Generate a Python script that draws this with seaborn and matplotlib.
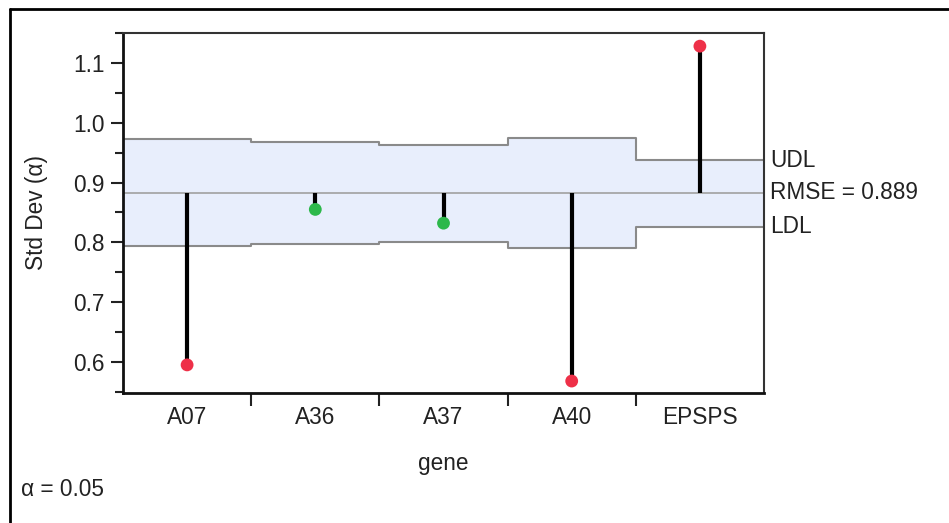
import numpy as np
import pandas as pd
import matplotlib
matplotlib.use("Agg")
import matplotlib.pyplot as plt
import matplotlib.transforms as mtransforms
from matplotlib.lines import Line2D
import seaborn as sns

sns.set_theme(style="white")
plt.rcParams['font.family'] = ['Liberation Sans', 'DejaVu Sans']

genes = ["A07", "A36", "A37", "A40", "EPSPS"]
std_dev = [0.595, 0.855, 0.832, 0.568, 1.128]
udl = [0.972, 0.967, 0.963, 0.975, 0.937]
ldl = [0.794, 0.797, 0.800, 0.790, 0.826]
center = 0.883
rmse_text = "RMSE = 0.889"
alpha_text = "α = 0.05"

df = pd.DataFrame({"gene": genes, "std": std_dev, "udl": udl, "ldl": ldl})
df["pos"] = np.arange(len(df))
df["status"] = np.where((df["std"] > df["udl"]) | (df["std"] < df["ldl"]), "out", "in")

txt = "#222222"
fs = 16.3

fig = plt.figure(figsize=(9.49, 5.23), dpi=100)
ax = fig.add_axes([123 / 949, 1 - 393 / 523, 641 / 949, 360 / 523])

# decision limit band (step shape)
edges = np.arange(len(df) + 1) - 0.5
up = np.append(df["udl"].values, df["udl"].values[-1])
lo = np.append(df["ldl"].values, df["ldl"].values[-1])
ax.fill_between(edges, lo, up, step="post", color="#E8EEFC", zorder=1, linewidth=0)
ax.step(edges, up, where="post", color="#8a8a8a", lw=1.5, zorder=2)
ax.step(edges, lo, where="post", color="#8a8a8a", lw=1.5, zorder=2)
ax.axhline(center, color="#a0a0a0", lw=1.2, zorder=2)

# stems + points
ax.vlines(df["pos"], center, df["std"], color="black", lw=3, zorder=3)
sns.scatterplot(data=df, x="pos", y="std", hue="status",
                palette={"out": "#EE3048", "in": "#2DB84B"},
                s=85, edgecolor="none", legend=False, zorder=4, ax=ax)

ax.set_xlim(-0.5, len(df) - 0.5)
ax.set_ylim(0.548, 1.15)

# y axis
ax.set_yticks([0.6, 0.7, 0.8, 0.9, 1.0, 1.1])
ax.set_yticklabels(["0.6", "0.7", "0.8", "0.9", "1.0", "1.1"])
ax.set_yticks(np.arange(0.55, 1.16, 0.1), minor=True)
ax.tick_params(axis="y", which="major", direction="out", length=9, width=1.5,
               color="#222222", left=True, pad=4, labelsize=fs, labelcolor=txt)
ax.tick_params(axis="y", which="minor", direction="out", length=5.5, width=1.5,
               color="#222222", left=True)

# x axis: labels at centers, ticks between categories
ax.set_xticks(df["pos"])
ax.set_xticklabels(genes)
ax.set_xticks(edges[1:-1], minor=True)
ax.tick_params(axis="x", which="major", length=0, pad=9, labelsize=fs, labelcolor=txt)
ax.tick_params(axis="x", which="minor", direction="out", length=9, width=1.5,
               color="#222222", bottom=True)

ax.set_xlabel("gene", fontsize=fs, color=txt)
ax.set_ylabel("Std Dev (α)", fontsize=fs, color=txt)
ax.xaxis.set_label_coords(0.5, -0.165)
ax.yaxis.set_label_coords(-0.117, 0.5)

for side in ["left", "bottom"]:
    ax.spines[side].set_color("#111111")
    ax.spines[side].set_linewidth(2)
for side in ["top", "right"]:
    ax.spines[side].set_color("#333333")
    ax.spines[side].set_linewidth(1.5)

# right-hand labels
trans = mtransforms.blended_transform_factory(ax.transAxes, ax.transData)
ax.text(1.01, df["udl"].iloc[-1], "UDL", transform=trans, ha="left", va="center",
        fontsize=fs, color=txt)
ax.text(1.01, center, rmse_text, transform=trans, ha="left", va="center",
        fontsize=fs, color=txt)
ax.text(1.01, df["ldl"].iloc[-1], "LDL", transform=trans, ha="left", va="center",
        fontsize=fs, color=txt)

fig.text(21 / 949, 1 - 490 / 523, alpha_text, ha="left", va="center",
         fontsize=fs, color=txt)

# outer frame
fig.add_artist(Line2D([9.5 / 949, 1], [1 - 8.5 / 523, 1 - 8.5 / 523],
                      transform=fig.transFigure, color="black", lw=2))
fig.add_artist(Line2D([9.5 / 949, 9.5 / 949], [0, 1 - 8.5 / 523],
                      transform=fig.transFigure, color="black", lw=2))

fig.savefig("out.png", dpi=100)
